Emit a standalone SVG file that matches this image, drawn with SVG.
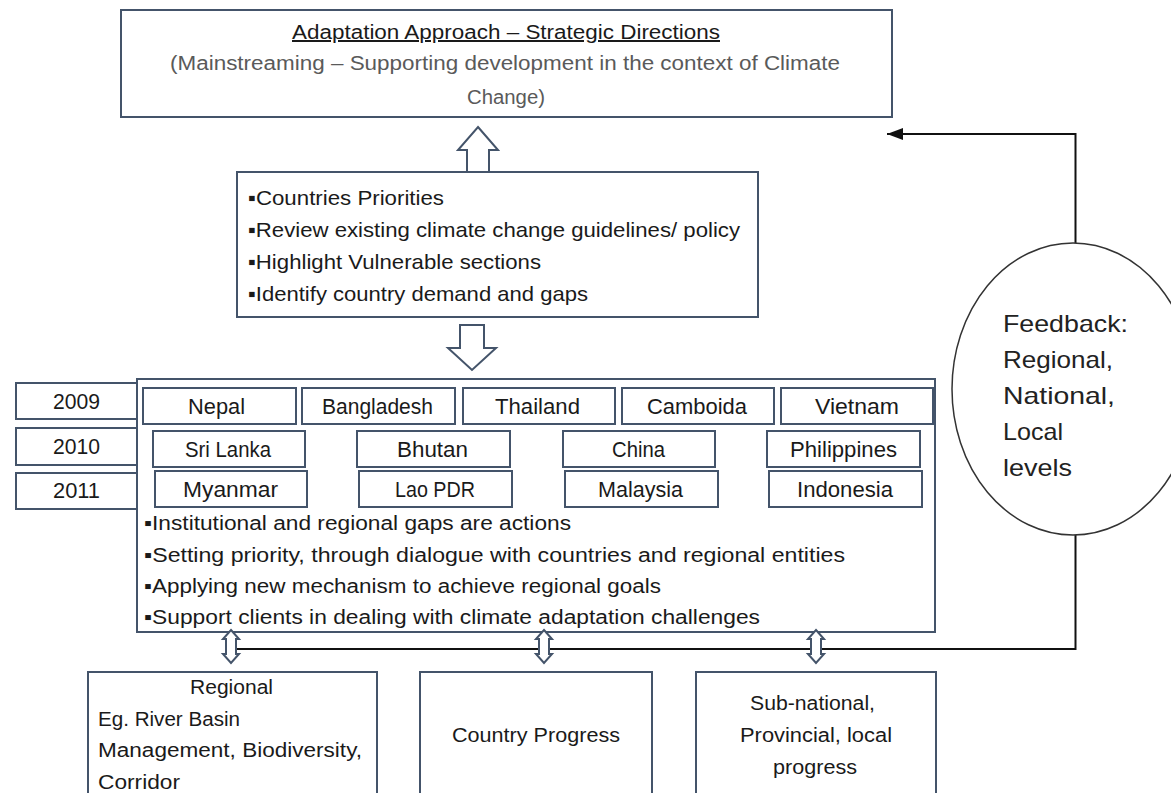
<svg xmlns="http://www.w3.org/2000/svg" width="1171" height="793" viewBox="0 0 1171 793">
<style>
  .box{fill:#fff;stroke:#44546a;stroke-width:2}
  .t{font-family:"Liberation Sans",Arial,sans-serif;font-size:20px;fill:#1a1a1a}
  .m{font-size:21px}
  .c{font-size:21.5px}
  .g{fill:#5a5a5a}
  .fb{font-family:"Liberation Sans",Arial,sans-serif;font-size:24px;fill:#222}
  .conn{fill:none;stroke:#111;stroke-width:2}
  .blk{fill:#fff;stroke:#44546a;stroke-width:2;stroke-linejoin:miter}
</style>
<defs>
  <marker id="ah" viewBox="0 0 16 12" refX="16" refY="6" markerWidth="16" markerHeight="12" markerUnits="userSpaceOnUse" orient="auto">
    <path d="M0,0 L16,6 L0,12 Z" fill="#111"/>
  </marker>
</defs>

<g id="connectors">
  <polyline class="conn" points="1075.5,243 1075.5,134 887,134" marker-end="url(#ah)"/>
  <polyline class="conn" points="1075.5,535 1075.5,649 232,649"/>
</g>

<g id="top-box">
  <rect class="box" x="121" y="10" width="771" height="107"/>
  <text class="t" x="292" y="39" textLength="428" lengthAdjust="spacingAndGlyphs" text-decoration="underline">Adaptation Approach – Strategic Directions</text>
  <text class="t g" x="170" y="70" textLength="670" lengthAdjust="spacingAndGlyphs">(Mainstreaming – Supporting development in the context of Climate</text>
  <text class="t g" x="467" y="104" textLength="78" lengthAdjust="spacingAndGlyphs">Change)</text>
</g>

<g id="arrow-up">
  <path class="blk" d="M478,127 L498,150 L489,150 L489,172 L467,172 L467,150 L458,150 Z"/>
</g>

<g id="middle-box">
  <rect class="box" x="237" y="172" width="521" height="145"/>
  <text class="t m" x="248" y="205" textLength="196" lengthAdjust="spacingAndGlyphs">▪Countries Priorities</text>
  <text class="t m" x="248" y="237" textLength="492" lengthAdjust="spacingAndGlyphs">▪Review existing climate change guidelines/ policy</text>
  <text class="t m" x="248" y="269" textLength="293" lengthAdjust="spacingAndGlyphs">▪Highlight Vulnerable sections</text>
  <text class="t m" x="248" y="301" textLength="340" lengthAdjust="spacingAndGlyphs">▪Identify country demand and gaps</text>
</g>

<g id="arrow-down">
  <path class="blk" d="M460,325 L484,325 L484,348 L496,348 L472,370 L448,348 L460,348 Z"/>
</g>

<g id="years">
  <g id="y2009"><rect class="box" x="16" y="383" width="125" height="36"/><text class="t c" x="53" y="409" textLength="47" lengthAdjust="spacingAndGlyphs">2009</text></g>
  <g id="y2010"><rect class="box" x="16" y="428" width="125" height="37"/><text class="t c" x="53" y="454" textLength="47" lengthAdjust="spacingAndGlyphs">2010</text></g>
  <g id="y2011"><rect class="box" x="16" y="473" width="125" height="36"/><text class="t c" x="53" y="498" textLength="47" lengthAdjust="spacingAndGlyphs">2011</text></g>
</g>

<g id="main-box">
  <rect class="box" x="137" y="379" width="798" height="253"/>
  <text class="t" x="144" y="530" textLength="427" lengthAdjust="spacingAndGlyphs">▪Institutional and regional gaps are actions</text>
  <text class="t" x="144" y="562" textLength="701" lengthAdjust="spacingAndGlyphs">▪Setting priority, through dialogue with countries and regional entities</text>
  <text class="t" x="144" y="593" textLength="517" lengthAdjust="spacingAndGlyphs">▪Applying new mechanism to achieve regional goals</text>
  <text class="t" x="144" y="624" textLength="616" lengthAdjust="spacingAndGlyphs">▪Support clients in dealing with climate adaptation challenges</text>
</g>

<g id="countries">
  <g id="nepal"><rect class="box" x="143" y="388" width="153" height="36"/><text class="t c" x="188" y="414" textLength="57" lengthAdjust="spacingAndGlyphs">Nepal</text></g>
  <g id="bangladesh"><rect class="box" x="302" y="388" width="153" height="36"/><text class="t c" x="322" y="414" textLength="111" lengthAdjust="spacingAndGlyphs">Bangladesh</text></g>
  <g id="thailand"><rect class="box" x="463" y="388" width="152" height="36"/><text class="t c" x="495" y="414" textLength="85" lengthAdjust="spacingAndGlyphs">Thailand</text></g>
  <g id="camboida"><rect class="box" x="622" y="388" width="152" height="36"/><text class="t c" x="647" y="414" textLength="100" lengthAdjust="spacingAndGlyphs">Camboida</text></g>
  <g id="vietnam"><rect class="box" x="781" y="388" width="152" height="36"/><text class="t c" x="815" y="414" textLength="84" lengthAdjust="spacingAndGlyphs">Vietnam</text></g>

  <g id="srilanka"><rect class="box" x="153" y="431" width="152" height="36"/><text class="t c" x="185" y="457" textLength="86" lengthAdjust="spacingAndGlyphs">Sri Lanka</text></g>
  <g id="bhutan"><rect class="box" x="357" y="431" width="153" height="36"/><text class="t c" x="397" y="457" textLength="71" lengthAdjust="spacingAndGlyphs">Bhutan</text></g>
  <g id="china"><rect class="box" x="563" y="431" width="152" height="36"/><text class="t c" x="612" y="457" textLength="53" lengthAdjust="spacingAndGlyphs">China</text></g>
  <g id="philippines"><rect class="box" x="767" y="431" width="153" height="36"/><text class="t c" x="790" y="457" textLength="107" lengthAdjust="spacingAndGlyphs">Philippines</text></g>

  <g id="myanmar"><rect class="box" x="155" y="471" width="152" height="36"/><text class="t c" x="183" y="497" textLength="95" lengthAdjust="spacingAndGlyphs">Myanmar</text></g>
  <g id="laopdr"><rect class="box" x="359" y="471" width="153" height="36"/><text class="t c" x="395" y="497" textLength="80" lengthAdjust="spacingAndGlyphs">Lao PDR</text></g>
  <g id="malaysia"><rect class="box" x="565" y="471" width="153" height="36"/><text class="t c" x="598" y="497" textLength="85" lengthAdjust="spacingAndGlyphs">Malaysia</text></g>
  <g id="indonesia"><rect class="box" x="769" y="471" width="153" height="36"/><text class="t c" x="797" y="497" textLength="96" lengthAdjust="spacingAndGlyphs">Indonesia</text></g>
</g>

<g id="double-arrows">
  <path class="blk" d="M231,630 L239,639 L236,639 L236,654 L239,654 L231,663 L223,654 L226,654 L226,639 L223,639 Z"/>
  <path class="blk" d="M544,630 L552,639 L549,639 L549,654 L552,654 L544,663 L536,654 L539,654 L539,639 L536,639 Z"/>
  <path class="blk" d="M816,630 L824,639 L821,639 L821,654 L824,654 L816,663 L808,654 L811,654 L811,639 L808,639 Z"/>
</g>

<g id="regional-box">
  <rect class="box" x="88" y="672" width="289" height="140"/>
  <text class="t" x="190" y="694" textLength="83" lengthAdjust="spacingAndGlyphs">Regional</text>
  <text class="t" x="98" y="726" textLength="142" lengthAdjust="spacingAndGlyphs">Eg. River Basin</text>
  <text class="t" x="98" y="757" textLength="264" lengthAdjust="spacingAndGlyphs">Management, Biodiversity,</text>
  <text class="t" x="98" y="789" textLength="82" lengthAdjust="spacingAndGlyphs">Corridor</text>
</g>

<g id="country-progress-box">
  <rect class="box" x="420" y="672" width="232" height="140"/>
  <text class="t" x="452" y="742" textLength="168" lengthAdjust="spacingAndGlyphs">Country Progress</text>
</g>

<g id="subnational-box">
  <rect class="box" x="696" y="672" width="240" height="140"/>
  <text class="t" x="750" y="710" textLength="125" lengthAdjust="spacingAndGlyphs">Sub-national,</text>
  <text class="t" x="740" y="742" textLength="152" lengthAdjust="spacingAndGlyphs">Provincial, local</text>
  <text class="t" x="773" y="774" textLength="84" lengthAdjust="spacingAndGlyphs">progress</text>
</g>

<g id="feedback">
  <ellipse cx="1073" cy="389" rx="121" ry="146" fill="#fff" stroke="#333" stroke-width="1.5"/>
  <text class="fb" x="1003" y="332" textLength="125" lengthAdjust="spacingAndGlyphs">Feedback:</text>
  <text class="fb" x="1003" y="368" textLength="110" lengthAdjust="spacingAndGlyphs">Regional,</text>
  <text class="fb" x="1003" y="404" textLength="112" lengthAdjust="spacingAndGlyphs">National,</text>
  <text class="fb" x="1003" y="440" textLength="60" lengthAdjust="spacingAndGlyphs">Local</text>
  <text class="fb" x="1003" y="476" textLength="69" lengthAdjust="spacingAndGlyphs">levels</text>
</g>
</svg>
